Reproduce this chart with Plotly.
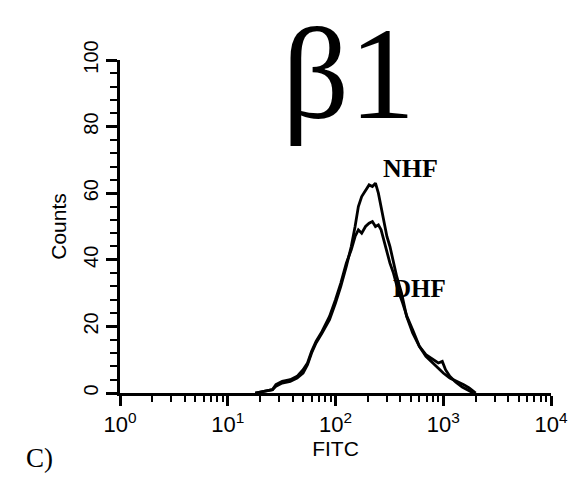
import plotly.graph_objects as go

# NHF histogram (FITC intensity, counts)
nhf_x = [18, 22, 26, 28, 32, 38, 44, 50, 55, 60, 66, 75, 88, 100, 112, 126, 140, 152, 163, 175,
         190, 205, 220, 235, 250, 265, 280, 300, 320, 340, 370, 410, 457, 520, 600, 690, 794,
         900, 1000, 1150, 1350, 1550, 1740, 1900, 2000]
nhf_y = [0, 0.5, 1, 2, 3, 3.5, 4.5, 6, 8.5, 12, 15, 18, 22, 27, 32, 38, 44, 50, 56, 59,
         61, 62.5, 62, 63, 60, 56, 52, 47, 44, 40, 35, 30, 23, 18, 14, 11, 9,
         7.5, 6, 4.5, 3.5, 2.5, 1.5, 0.7, 0]

# DHF histogram
dhf_x = [18, 22, 26, 28, 32, 38, 44, 50, 55, 60, 66, 75, 88, 100, 112, 126, 140, 152, 163, 175,
         190, 205, 220, 235, 250, 265, 280, 300, 320, 345, 380, 420, 460, 520, 600, 690, 800,
         900, 980, 1050, 1150, 1300, 1500, 1700, 1900]
dhf_y = [0, 0.5, 1, 2.5, 3.5, 4, 5, 7, 9, 12.5, 15.5, 18.5, 23, 28, 33, 39, 43, 47, 49, 48,
         50, 51, 51.5, 50, 50.5, 49, 46, 42, 39, 36, 31, 27, 23, 19, 14, 11.5, 10,
         9, 9.5, 7, 5, 3.3, 1.8, 0.8, 0]

x_tickvals = [1, 10, 100, 1000, 10000]
x_ticktext = ["10<sup>0</sup>", "10<sup>1</sup>", "10<sup>2</sup>", "10<sup>3</sup>", "10<sup>4</sup>"]
x_minorvals = [m * d for d in [1, 10, 100, 1000] for m in range(2, 10)]
y_tickvals = [0, 20, 40, 60, 80, 100]

serif = "Liberation Serif, Times New Roman, serif"

fig = go.Figure()
fig.add_trace(go.Scatter(x=nhf_x, y=nhf_y, mode="lines", name="NHF",
                         line=dict(color="black", width=2.8)))
fig.add_trace(go.Scatter(x=dhf_x, y=dhf_y, mode="lines", name="DHF",
                         line=dict(color="black", width=2.8)))

fig.update_layout(
    width=569, height=469,
    margin=dict(l=112, r=26, t=52, b=84, autoexpand=False),
    paper_bgcolor="white", plot_bgcolor="white",
    showlegend=False,
    font=dict(family="Liberation Sans, Arial, sans-serif", color="black"),
    xaxis=dict(
        type="log", range=[0, 4],
        tickvals=x_tickvals, ticktext=x_ticktext,
        ticks="outside", ticklen=10, tickwidth=2.5, tickcolor="black",
        minor=dict(tickmode="array", tickvals=x_minorvals, ticks="outside",
                   ticklen=6, tickwidth=2, tickcolor="black"),
        showline=True, linecolor="black", linewidth=3,
        showgrid=False, zeroline=False,
        tickfont=dict(size=22),
        title=dict(text="FITC", font=dict(size=21), standoff=0),
    ),
    yaxis=dict(
        range=[0, 100],
        tickvals=y_tickvals,
        ticks="outside", ticklen=11, tickwidth=2.5, tickcolor="black",
        minor=dict(dtick=4, ticks="outside", ticklen=7, tickwidth=2, tickcolor="black"),
        showline=True, linecolor="black", linewidth=3,
        showgrid=False, zeroline=False,
        tickangle=-90,
        tickfont=dict(size=20),
        title=dict(text="Counts", font=dict(size=21), standoff=8),
    ),
    annotations=[
        dict(text="β1", x=2.12, y=96, xref="x", yref="y", showarrow=False,
             xanchor="center", yanchor="middle",
             font=dict(family=serif, size=132, color="black")),
        dict(text="<b>NHF</b>", x=2.7, y=67.5, xref="x", yref="y", showarrow=False,
             xanchor="center", yanchor="middle",
             font=dict(family=serif, size=26, color="black")),
        dict(text="<b>DHF</b>", x=2.78, y=31.5, xref="x", yref="y", showarrow=False,
             xanchor="center", yanchor="middle",
             font=dict(family=serif, size=25, color="black")),
        dict(text="C)", x=-0.186, y=-0.195, xref="paper", yref="paper", showarrow=False,
             xanchor="center", yanchor="middle",
             font=dict(family=serif, size=27, color="black")),
    ],
)

fig.write_html("out.html")
